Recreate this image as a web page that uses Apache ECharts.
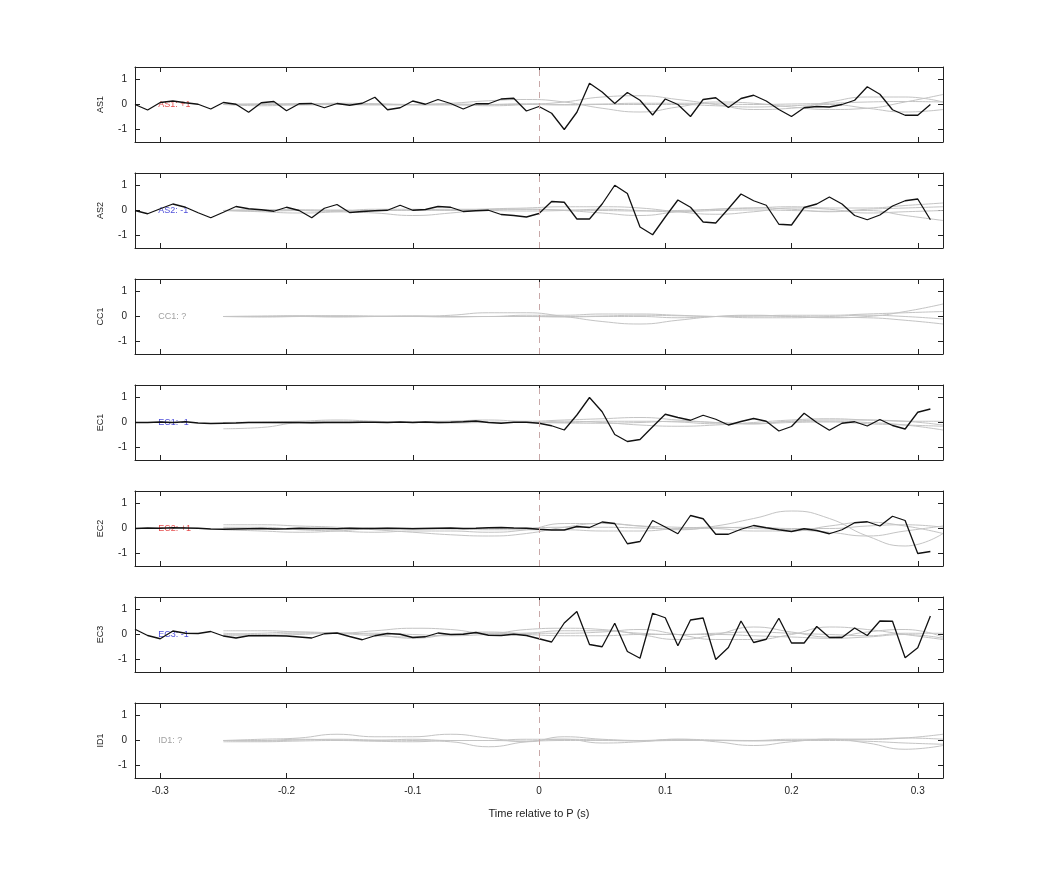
<!DOCTYPE html>
<html>
<head>
<meta charset="utf-8">
<script src="https://cdn.jsdelivr.net/npm/echarts@6/dist/echarts.min.js"></script>
<style>html,body{margin:0;background:#fff}#c{width:1042px;height:875px}</style>
</head>
<body>
<div id="c"></div>
<script>
// station names and labels
const stations = ['AS1', 'AS2', 'CC1', 'EC1', 'EC2', 'EC3', 'ID1']
const polarity = ['+1', '-1', '?', '-1', '+1', '-1', '?']
const xTicks = [-0.3, -0.2, -0.1, 0, 0.1, 0.2, 0.3]
const yTicks = [-1, 0, 1]

// black trace sampled every 0.01 s from -0.32 to 0.31
const blackTimes = Array.from({length: 64}, (_, i) => +(-0.32 + i * 0.01).toFixed(2))
const as1 = [0, -0.22, 0.08, 0.14, 0.07, 0.01, -0.18, 0.08, 0.01, -0.31, 0.07, 0.12, -0.25, 0.03, 0.04, -0.13,
  0.04, -0.03, 0.05, 0.29, -0.21, -0.13, 0.14, 0.01, 0.2, 0.04, -0.18, 0.03, 0.03, 0.22, 0.25, -0.26,
  -0.08, -0.35, -1.0, -0.31, 0.85, 0.5, 0.04, 0.48, 0.17, -0.42, 0.22, 0, -0.48, 0.2, 0.27, -0.12,
  0.24, 0.37, 0.14, -0.2, -0.48, -0.13, -0.08, -0.1, 0, 0.17, 0.71, 0.41, -0.21, -0.43, -0.43, 0]
const as2 = [0, -0.13, 0.07, 0.26, 0.13, -0.09, -0.29, -0.07, 0.16, 0.07, 0.03, -0.03, 0.13, 0, -0.29, 0.09,
  0.24, -0.08, -0.04, -0.01, 0.01, 0.21, 0.01, 0.04, 0.16, 0.13, -0.04, -0.01, 0.01, -0.16, -0.2, -0.26,
  -0.12, 0.36, 0.33, -0.34, -0.34, 0.26, 1.01, 0.68, -0.66, -0.97, -0.26, 0.42, 0.13, -0.46, -0.5, 0.07,
  0.66, 0.39, 0.21, -0.55, -0.58, 0.12, 0.26, 0.54, 0.26, -0.2, -0.37, -0.18, 0.18, 0.39, 0.46, -0.37]
const ec1 = [0, 0, 0.02, 0, 0.03, -0.02, -0.04, -0.03, -0.02, 0, 0, 0, 0, 0, -0.01, 0,
  0, 0, 0.01, 0.01, 0, 0.02, 0, 0.02, 0, 0.01, 0.03, 0.06, 0, -0.03, 0.01, 0.01,
  -0.03, -0.13, -0.3, 0.3, 1.0, 0.43, -0.48, -0.76, -0.68, -0.17, 0.33, 0.2, 0.09, 0.29, 0.13, -0.1,
  0.04, 0.16, 0.05, -0.34, -0.16, 0.37, 0, -0.31, -0.03, 0.03, -0.14, 0.12, -0.12, -0.26, 0.41, 0.54]
const ec2 = [0, 0.02, 0.01, 0.03, 0.02, 0.01, -0.02, -0.03, -0.02, -0.01, 0, -0.02, -0.01, 0.01, 0, 0,
  -0.01, 0.01, 0, 0, 0.01, 0, -0.01, 0, 0.01, 0.02, 0, 0.01, 0.03, 0.04, 0.02, 0.01,
  -0.03, -0.06, -0.06, 0.08, 0.04, 0.26, 0.2, -0.61, -0.52, 0.32, 0.06, -0.21, 0.52, 0.39, -0.23, -0.23,
  -0.03, 0.12, 0.03, -0.05, -0.12, -0.01, -0.08, -0.21, -0.05, 0.23, 0.27, 0.1, 0.49, 0.32, -1.0, -0.92]
const ec3 = [0.21, -0.04, -0.17, 0.14, 0.05, 0.04, 0.12, -0.06, -0.14, -0.05, -0.05, -0.05, -0.06, -0.1, -0.14, 0.03,
  0.06, -0.08, -0.21, -0.05, 0.04, 0.01, -0.12, -0.09, 0.06, 0, 0.01, 0.08, -0.03, -0.04, 0.01, -0.04,
  -0.17, -0.3, 0.46, 0.92, -0.4, -0.49, 0.45, -0.68, -0.95, 0.85, 0.67, -0.45, 0.58, 0.66, -1.0, -0.52,
  0.54, -0.32, -0.19, 0.65, -0.34, -0.34, 0.32, -0.12, -0.12, 0.26, -0.04, 0.54, 0.53, -0.93, -0.53, 0.74]
const blackData = [as1, as2, null, ec1, ec2, ec3, null]

// gray synthetic traces sampled every 0.03 s from -0.25 to 0.32
const grayTimes = Array.from({length: 20}, (_, i) => +(-0.25 + i * 0.03).toFixed(2))
const grayData = [
  [
    [0, 0.02, 0.03, 0.01, -0.02, 0, 0.05, 0.15, 0.2, 0.1, -0.15, -0.3, -0.1, 0.1, 0.05, -0.1, -0.2, -0.15, 0.1, 0.4],
    [0, -0.05, 0.0, 0.05, 0.03, -0.02, 0.0, -0.05, 0.0, 0.1, 0.3, 0.35, 0.2, 0.0, -0.2, -0.15, 0.1, 0.3, 0.3, 0.1],
    [0, 0.02, -0.02, 0, 0.02, 0, -0.02, 0, 0.03, 0, 0.02, 0.05, 0.05, 0.03, 0, 0.02, 0.05, 0.1, 0.12, 0.1],
    [0, 0, 0.02, 0.02, 0, 0, 0.02, 0, 0, -0.02, 0, 0, 0, -0.05, -0.1, -0.05, 0, -0.15, -0.3, -0.2]
  ],
  [
    [0, -0.05, -0.1, -0.05, 0.05, 0.05, 0, 0.05, 0.05, 0.0, -0.1, -0.2, -0.05, 0.05, 0.1, 0.05, -0.05, 0.05, 0.1, 0.15],
    [0, 0.03, 0.0, -0.05, -0.1, -0.2, -0.1, 0.05, 0.1, 0.15, 0.15, 0.1, -0.05, -0.15, -0.05, 0.1, 0.05, -0.1, -0.05, 0.0],
    [0, 0.02, 0.03, 0, 0, 0.02, 0.05, 0.05, 0.05, 0.02, 0, -0.02, 0, 0.05, 0.1, 0.15, 0.1, 0.1, 0.2, 0.3],
    [0, -0.02, 0, 0.02, 0, 0, 0.02, 0, -0.02, 0, 0.05, 0, -0.05, 0, 0.02, 0, -0.03, 0, -0.2, -0.4]
  ],
  [
    [0, 0.02, 0.03, 0.03, 0.02, 0, 0.05, 0.15, 0.15, 0, -0.2, -0.3, -0.15, 0, 0.05, 0, -0.05, 0.0, 0.2, 0.5],
    [0, 0, 0.02, 0, 0, 0.02, 0, 0, 0.05, 0.05, 0.1, 0.1, 0.05, 0, 0.02, 0.05, 0.05, 0.1, 0.15, 0.2],
    [0, -0.02, 0, 0.02, 0, 0, -0.02, 0, 0, -0.02, 0, 0, -0.05, 0, 0.02, 0, -0.03, -0.05, -0.15, -0.3],
    [0, 0, 0, -0.02, 0, 0.02, 0, 0, 0, 0, 0.02, 0.05, 0.03, 0, -0.05, -0.05, 0, 0.05, 0.0, -0.1]
  ],
  [
    [-0.25, -0.2, 0.0, 0.05, 0.02, 0, 0.05, 0.1, 0.05, 0.1, 0.15, 0.2, 0.1, 0.0, -0.05, 0.05, 0.05, 0.0, -0.1, -0.3],
    [0, 0.02, 0.05, 0.1, 0.05, 0, 0.02, 0, 0, 0.05, 0, -0.1, -0.15, -0.1, 0, 0.1, 0.15, 0.1, 0.05, -0.1],
    [0, 0, 0.02, 0.02, 0, 0.03, 0.05, 0.02, 0, 0, 0.05, 0.05, 0.02, -0.05, -0.05, 0.05, 0.1, 0.1, 0.05, 0.05],
    [0, 0, -0.02, 0, 0, 0, -0.02, 0, 0, -0.02, -0.03, 0, 0.05, 0, -0.05, 0, 0.02, -0.05, -0.1, -0.15]
  ],
  [
    [0.15, 0.15, 0.1, 0.05, -0.05, -0.15, -0.25, -0.3, -0.2, 0.05, 0.2, 0.1, -0.05, 0.1, 0.4, 0.7, 0.4, -0.3, -0.7, -0.2],
    [0.05, 0.05, -0.05, -0.1, -0.15, -0.1, -0.1, -0.15, -0.05, 0.2, 0.2, 0.1, 0.05, 0, -0.1, -0.1, 0.1, 0.25, 0.1, -0.2],
    [0.02, 0, -0.02, 0, 0.02, 0, -0.02, 0, 0.02, 0.05, 0.05, 0.02, -0.02, 0.02, 0.05, 0, 0, 0.1, 0.15, 0.05],
    [-0.05, -0.1, -0.15, -0.1, 0, 0.02, 0, -0.05, -0.05, -0.05, -0.1, -0.1, 0, 0.05, 0, -0.05, -0.15, -0.3, -0.1, 0.1]
  ],
  [
    [0.15, 0.15, 0.1, 0.05, 0.15, 0.25, 0.2, 0.05, 0.2, 0.25, 0.2, 0, -0.2, 0, 0.3, 0.1, -0.1, 0.1, 0.2, -0.1],
    [0.05, 0.0, 0.05, 0.05, 0.0, -0.15, 0.0, 0.1, 0.05, 0.05, 0.1, 0.2, 0.0, -0.2, -0.2, 0, 0.3, 0.2, 0.0, -0.2],
    [-0.05, -0.05, 0, 0.05, 0.05, 0.0, -0.05, 0.0, 0.05, 0.15, 0.15, 0.05, 0, 0.05, 0.1, 0.05, 0, -0.05, 0.05, 0.05],
    [0, 0.05, 0.1, 0.05, -0.05, -0.1, 0, 0.05, 0, -0.05, -0.05, 0, 0, 0, -0.05, -0.1, -0.15, -0.1, 0, -0.15]
  ],
  [
    [0, 0.05, 0.1, 0.25, 0.15, 0.15, 0.25, 0.1, -0.05, 0.15, 0.05, 0, 0, 0, 0, 0.05, 0.05, 0.05, 0.1, 0.25],
    [0, -0.02, 0.02, 0.05, 0.02, 0.0, -0.05, -0.25, -0.05, 0.05, -0.1, -0.05, 0.05, -0.05, -0.2, -0.05, 0.05, -0.1, -0.35, -0.2],
    [0, 0, 0.05, 0.02, 0, 0.05, 0, 0, 0.05, 0.05, 0.02, 0.0, 0.05, 0.02, 0, 0, 0.05, 0.05, 0.1, 0.05],
    [-0.05, -0.05, -0.02, 0, -0.03, -0.05, 0, 0, -0.02, 0, 0, -0.02, 0, 0, -0.02, 0, 0, -0.03, -0.1, -0.15]
  ]
]
const labelColor = {'+1': '#e02020', '-1': '#2020d0', '?': '#888'}

const top0 = 67, step = 106, h = 75
const grid = [], xAxis = [], yAxis = [], series = []
const axisLine = {show: true, onZero: false, lineStyle: {color: '#222', width: 1}}
const tick = vals => ({show: true, inside: true, length: 5, customValues: vals, lineStyle: {color: '#222'}})
stations.forEach((st, i) => {
  grid.push({left: 135, right: 99, top: top0 + i * step, height: h})
  const last = i === stations.length - 1
  xAxis.push({
    type: 'value', gridIndex: i, min: -0.32, max: 0.32, position: 'bottom',
    axisLine, axisTick: tick(xTicks), splitLine: {show: false},
    axisLabel: {show: last, customValues: xTicks, color: '#222', fontSize: 10, fontFamily: 'Liberation Sans', margin: 8},
    name: last ? 'Time relative to P (s)' : '', nameLocation: 'middle', nameGap: 30,
    nameTextStyle: {color: '#222', fontSize: 11, fontFamily: 'Liberation Sans'}
  })
  xAxis.push({
    type: 'value', gridIndex: i, min: -0.32, max: 0.32, position: 'top',
    axisLine, axisTick: tick(xTicks), axisLabel: {show: false}, splitLine: {show: false}
  })
  yAxis.push({
    type: 'value', gridIndex: i, min: -1.5, max: 1.5, position: 'left',
    axisLine, axisTick: tick(yTicks), splitLine: {show: false},
    axisLabel: {customValues: yTicks, color: '#222', fontSize: 10, fontFamily: 'Liberation Sans', margin: 8},
    name: st, nameLocation: 'middle', nameGap: 30, nameRotate: 90,
    nameTextStyle: {color: '#222', fontSize: 9, fontFamily: 'Liberation Sans'}
  })
  yAxis.push({
    type: 'value', gridIndex: i, min: -1.5, max: 1.5, position: 'right',
    axisLine, axisTick: tick(yTicks), axisLabel: {show: false}, splitLine: {show: false}
  })
  const xi = i * 2, yi = i * 2
  grayData[i].forEach(g => series.push({
    type: 'line', xAxisIndex: xi, yAxisIndex: yi, smooth: true, symbol: 'none', silent: true,
    data: grayTimes.map((t, k) => [t, g[k]]),
    lineStyle: {color: '#c4c4c4', width: 1}
  }))
  // zero-time marker and station label
  series.push({
    type: 'scatter', xAxisIndex: xi, yAxisIndex: yi, symbolSize: 0, silent: true,
    data: [[-0.3, 0]],
    label: {show: true, position: 'right', distance: -2, formatter: st + ': ' + polarity[i],
      color: labelColor[polarity[i]], fontSize: 9, fontFamily: 'Liberation Sans'},
    markLine: {symbol: 'none', silent: true, label: {show: false},
      lineStyle: {color: '#c8a8a8', type: [6, 5], width: 1}, data: [{xAxis: 0}]}
  })
  if (blackData[i]) series.push({
    type: 'line', xAxisIndex: xi, yAxisIndex: yi, symbol: 'none', silent: true,
    data: blackTimes.map((t, k) => [t, blackData[i][k]]),
    lineStyle: {color: '#111', width: 1.3}
  })
})

const chart = echarts.init(document.getElementById('c'))
chart.setOption({animation: false, backgroundColor: '#fff', grid, xAxis, yAxis, series})
</script>
</body>
</html>
